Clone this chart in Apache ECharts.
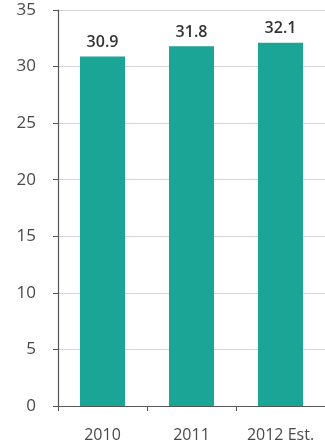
<!DOCTYPE html>
<html><head><meta charset="utf-8">
<style>html,body{margin:0;padding:0;background:#fff}#c{width:325px;height:448px}</style>
<script src="https://cdn.jsdelivr.net/npm/echarts@6/dist/echarts.min.js"></script>
</head><body><div id="c"></div>
<script>
const categories = ["2010", "2011", "2012 Est."];
const values = [30.9, 31.8, 32.1];
const yTicks = [0, 5, 10, 15, 20, 25, 30, 35];

const chart = echarts.init(document.getElementById('c'), null, {renderer: 'canvas'});
chart.setOption({
  animation: false,
  grid: {left: 58, right: -3, top: 10, bottom: 42, containLabel: false},
  xAxis: {
    type: 'category', data: categories,
    axisLine: {lineStyle: {color: '#555', width: 1.2}},
    axisTick: {show: true, interval: 0, alignWithLabel: false, length: 5, lineStyle: {color: '#555'}},
    axisLabel: {color: '#4a4a4a', fontSize: 16, fontFamily: 'Open Sans', margin: 21, interval: 0, hideOverlap: false}
  },
  yAxis: {
    type: 'value', min: yTicks[0], max: yTicks[yTicks.length - 1], interval: 5,
    axisLine: {show: true, lineStyle: {color: '#555', width: 1.2}},
    axisTick: {show: true, length: 5, lineStyle: {color: '#555'}},
    axisLabel: {color: '#4a4a4a', fontSize: 17, fontFamily: 'Open Sans', margin: 22},
    splitLine: {show: true, lineStyle: {color: '#d4d4d4', width: 1}}
  },
  series: [{
    type: 'bar', data: values, barWidth: 45,
    itemStyle: {color: '#1ba596'},
    label: {show: true, position: 'top', color: '#333', fontSize: 16, fontWeight: 600, fontFamily: 'Open Sans', distance: 6,
      formatter: p => p.value.toFixed(1)}
  }]
});
</script></body></html>
